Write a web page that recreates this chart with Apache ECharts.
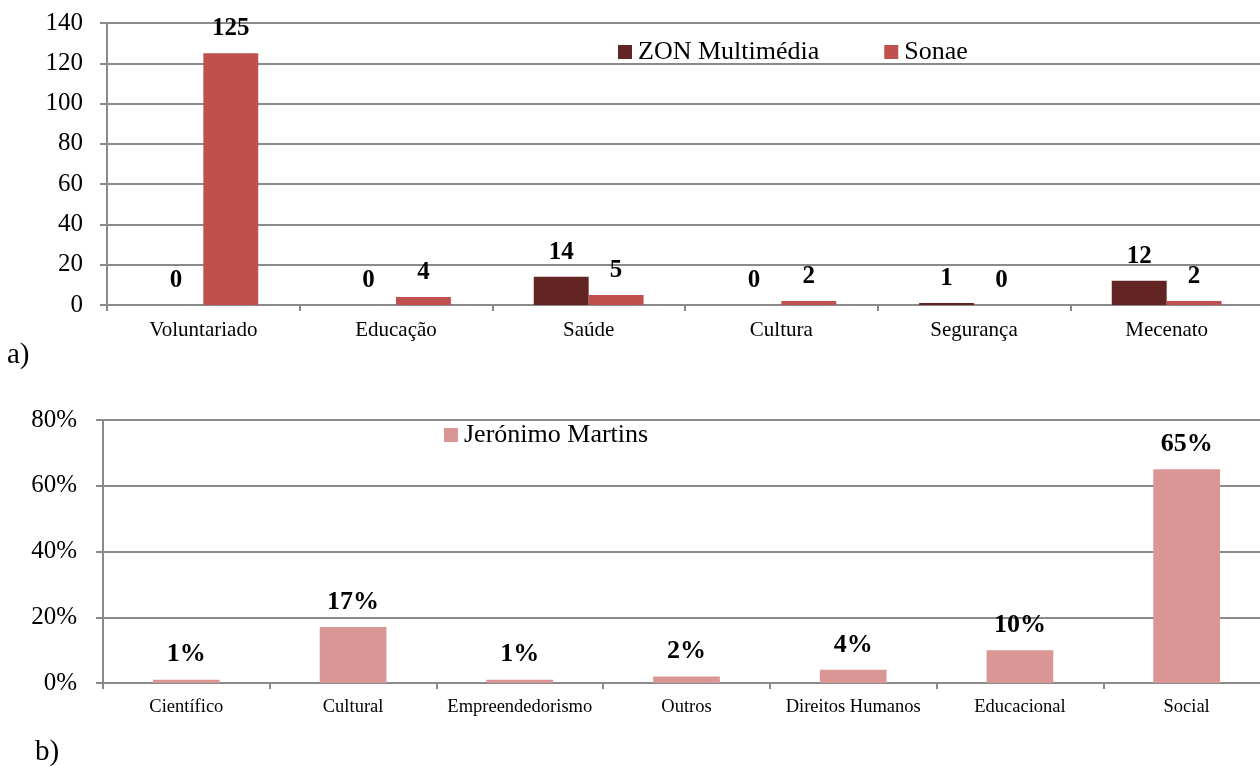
<!DOCTYPE html>
<html><head><meta charset="utf-8">
<script src="https://cdn.jsdelivr.net/npm/echarts@6/dist/echarts.min.js"></script>
<style>html,body{margin:0;padding:0;background:#fff}#c{width:1260px;height:769px}</style>
</head><body><div id="c"></div>
<script>
// Chart a)
const catsA = ['Voluntariado', 'Educação', 'Saúde', 'Cultura', 'Segurança', 'Mecenato'];
const zonValues = [0, 0, 14, 0, 1, 12];
const sonaeValues = [125, 4, 5, 2, 0, 2];
const yTicksA = [0, 20, 40, 60, 80, 100, 120, 140];
// Chart b)
const catsB = ['Científico', 'Cultural', 'Empreendedorismo', 'Outros', 'Direitos Humanos', 'Educacional', 'Social'];
const jmValues = [1, 17, 1, 2, 4, 10, 65];
const yTicksB = [0, 20, 40, 60, 80];

const FONT = 'Liberation Serif, Times New Roman, serif';
const GRID = '#8a8a8a';

const chart = echarts.init(document.getElementById('c'), null, {renderer: 'canvas'});

function yAxisFor(ticks, gridIndex, fmt, fs, margin) {
  return {
    type: 'value', gridIndex: gridIndex,
    min: ticks[0], max: ticks[ticks.length - 1], interval: ticks[1] - ticks[0],
    axisLine: {show: true, lineStyle: {color: GRID, width: 2}},
    axisTick: {show: true, length: 7, lineStyle: {color: GRID, width: 2}},
    splitLine: {show: true, lineStyle: {color: GRID, width: 2}},
    axisLabel: {color: '#000', fontFamily: FONT, fontSize: fs, margin: margin, formatter: fmt}
  };
}
function xAxisFor(cats, gridIndex, fs) {
  return {
    type: 'category', gridIndex: gridIndex, data: cats,
    axisLine: {show: true, lineStyle: {color: GRID, width: 2}},
    axisTick: {show: true, length: 6, lineStyle: {color: GRID, width: 2}},
    axisLabel: {color: '#000', fontFamily: FONT, fontSize: fs, margin: 15, interval: 0}
  };
}
const labelStyle = (fmt, fs) => ({
  show: true, position: 'top', distance: 12, color: '#000',
  fontFamily: FONT, fontSize: fs, fontWeight: 'bold', formatter: fmt
});

chart.setOption({
  animation: false,
  backgroundColor: '#fff',
  grid: [
    {left: 107, top: 23, right: -3, bottom: 464, outerBoundsMode: 'none', containLabel: false},
    {left: 103, top: 420, right: -10, bottom: 86, outerBoundsMode: 'none', containLabel: false}
  ],
  legend: [
    {data: ['ZON Multimédia', 'Sonae'], left: 613, top: 34, icon: 'rect', itemWidth: 14, itemHeight: 14,
     itemGap: 65, textStyle: {fontFamily: FONT, fontSize: 26, color: '#000', padding: [0, 0, 0, 1]}},
    {data: ['Jerónimo Martins'], left: 439, top: 417, icon: 'rect', itemWidth: 14, itemHeight: 14,
     textStyle: {fontFamily: FONT, fontSize: 26, color: '#000', padding: [0, 0, 0, 1]}}
  ],
  xAxis: [xAxisFor(catsA, 0, 21), xAxisFor(catsB, 1, 18.5)],
  yAxis: [yAxisFor(yTicksA, 0, '{value}', 25, 24), yAxisFor(yTicksB, 1, '{value}%', 25, 26)],
  series: [
    {name: 'ZON Multimédia', type: 'bar', xAxisIndex: 0, yAxisIndex: 0, data: zonValues,
     itemStyle: {color: '#632523'}, barWidth: '28.5%', barGap: '0%', label: labelStyle('{c}', 25)},
    {name: 'Sonae', type: 'bar', xAxisIndex: 0, yAxisIndex: 0, data: sonaeValues,
     itemStyle: {color: '#C0504D'}, barWidth: '28.5%', barGap: '0%', label: labelStyle('{c}', 25)},
    {name: 'Jerónimo Martins', type: 'bar', xAxisIndex: 1, yAxisIndex: 1, data: jmValues,
     itemStyle: {color: '#D99694'}, barWidth: '40%', label: labelStyle('{c}%', 26)}
  ],
  graphic: [
    {type: 'text', left: 7, top: 341, style: {text: 'a)', font: '29px ' + FONT, fill: '#000'}},
    {type: 'text', left: 35, top: 738, style: {text: 'b)', font: '29px ' + FONT, fill: '#000'}}
  ]
});
</script>
</body></html>
